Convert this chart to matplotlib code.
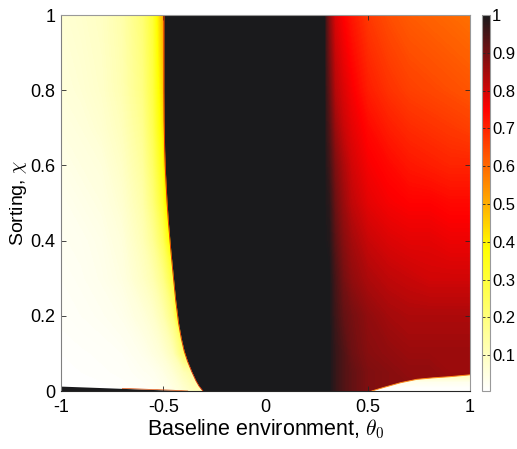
import numpy as np
import matplotlib
matplotlib.use("Agg")
import matplotlib.pyplot as plt
from matplotlib.colors import LinearSegmentedColormap, Normalize

plt.rcParams['font.family'] = ['Liberation Sans', 'DejaVu Sans']
plt.rcParams['mathtext.fontset'] = 'cm'

# ---------------- data ----------------
chi_rows = [0.0, 0.05, 0.1, 0.2, 0.3, 0.4, 0.5, 0.6, 0.7, 0.8, 0.9, 1.0]

# left (low theta) region
theta_left = [-1.0, -0.9, -0.8, -0.7, -0.6, -0.55, -0.5, -0.45, -0.4, -0.35, -0.3]
left_vals = [
    [0.005, 0.006, 0.008, 0.010, 0.015, 0.020, 0.030, 0.045, 0.070, 0.10, 0.12],
    [0.008, 0.010, 0.012, 0.015, 0.025, 0.030, 0.045, 0.070, 0.110, 0.15, 0.50],
    [0.010, 0.012, 0.015, 0.020, 0.035, 0.050, 0.070, 0.110, 0.220, 1.00, 1.00],
    [0.015, 0.020, 0.025, 0.035, 0.060, 0.080, 0.120, 0.200, 0.500, 1.00, 1.00],
    [0.020, 0.025, 0.035, 0.050, 0.090, 0.120, 0.180, 0.300, 1.000, 1.00, 1.00],
    [0.025, 0.030, 0.040, 0.060, 0.110, 0.160, 0.250, 0.450, 1.000, 1.00, 1.00],
    [0.030, 0.040, 0.050, 0.075, 0.130, 0.200, 0.320, 0.600, 1.000, 1.00, 1.00],
    [0.040, 0.050, 0.060, 0.090, 0.150, 0.230, 0.370, 0.900, 1.000, 1.00, 1.00],
    [0.050, 0.060, 0.075, 0.105, 0.170, 0.260, 0.420, 0.900, 1.000, 1.00, 1.00],
    [0.060, 0.070, 0.085, 0.120, 0.190, 0.280, 0.450, 0.900, 1.000, 1.00, 1.00],
    [0.065, 0.075, 0.090, 0.125, 0.200, 0.290, 0.480, 0.900, 1.000, 1.00, 1.00],
    [0.070, 0.080, 0.095, 0.130, 0.210, 0.300, 0.500, 0.900, 1.000, 1.00, 1.00],
]

# right (high theta) region
theta_right = [0.28, 0.31, 0.34, 0.38, 0.42, 0.5, 0.6, 0.7, 0.8, 0.9, 1.0]
right_vals = [
    [1.0, 1.00, 0.97, 0.94, 0.92, 0.89, 0.88, 0.88, 0.87, 0.87, 0.87],
    [1.0, 1.00, 0.97, 0.94, 0.92, 0.89, 0.88, 0.87, 0.87, 0.86, 0.86],
    [1.0, 1.00, 0.97, 0.94, 0.91, 0.88, 0.87, 0.86, 0.86, 0.86, 0.86],
    [1.0, 1.00, 0.96, 0.92, 0.90, 0.87, 0.85, 0.84, 0.84, 0.84, 0.84],
    [1.0, 1.00, 0.95, 0.90, 0.87, 0.84, 0.82, 0.81, 0.80, 0.80, 0.80],
    [1.0, 0.99, 0.93, 0.88, 0.85, 0.81, 0.79, 0.78, 0.78, 0.77, 0.77],
    [1.0, 0.98, 0.91, 0.86, 0.82, 0.78, 0.76, 0.75, 0.75, 0.74, 0.74],
    [1.0, 0.96, 0.89, 0.84, 0.80, 0.76, 0.74, 0.72, 0.71, 0.70, 0.70],
    [1.0, 0.94, 0.86, 0.81, 0.78, 0.74, 0.71, 0.69, 0.68, 0.67, 0.66],
    [1.0, 0.92, 0.83, 0.79, 0.76, 0.71, 0.68, 0.66, 0.65, 0.64, 0.63],
    [1.0, 0.90, 0.81, 0.77, 0.74, 0.69, 0.66, 0.64, 0.63, 0.62, 0.61],
    [1.0, 0.88, 0.79, 0.75, 0.72, 0.67, 0.64, 0.62, 0.61, 0.60, 0.59],
]

# boundary of the black (value 1) middle region
bnd_chi = [0.0, 0.013, 0.027, 0.053, 0.08, 0.107, 0.14, 0.18, 0.24, 0.3, 0.373,
           0.45, 0.507, 0.58, 0.64, 0.72, 0.8, 1.0]
bnd_theta = [-0.306, -0.325, -0.34, -0.362, -0.382, -0.398, -0.412, -0.425, -0.439,
             -0.45, -0.463, -0.475, -0.482, -0.489, -0.493, -0.496, -0.497, -0.497]
bnd_right_theta = 0.29

# thin black strip along the bottom-left edge
strip_theta = [-1.0, -0.85, -0.7, -0.55, -0.45, -0.38]
strip_chi = [0.013, 0.010, 0.007, 0.004, 0.002, 0.0]

# pale patch at the bottom-right
patch_theta = [0.52, 0.575, 0.66, 0.74, 0.82, 0.90, 1.0]
patch_chi = [0.0, 0.009, 0.022, 0.031, 0.035, 0.038, 0.043]
patch_vals = [0.01, 0.03, 0.09]   # bottom -> top

cbar_ticks = [0.1, 0.2, 0.3, 0.4, 0.5, 0.6, 0.7, 0.8, 0.9, 1.0]
cbar_labels = ['0.1', '0.2', '0.3', '0.4', '0.5', '0.6', '0.7', '0.8', '0.9', '1']
x_ticks = [-1, -0.5, 0, 0.5, 1]
x_labels = ['-1', '-0.5', '0', '0.5', '1']
y_ticks = [0, 0.2, 0.4, 0.6, 0.8, 1]
y_labels = ['0', '0.2', '0.4', '0.6', '0.8', '1']

# ---------------- styling ----------------
dark = (0.10, 0.10, 0.11)
cmap = LinearSegmentedColormap.from_list(
    'rhot', [(0.0, (1, 1, 1)), (0.38, (1, 1, 0)), (0.75, (1, 0, 0)), (1.0, dark)], N=512)
norm = Normalize(vmin=0.005, vmax=1.0)
levels = np.linspace(0.0, 1.0, 301)

fig = plt.figure(figsize=(5.17, 4.49), dpi=100)
ax = fig.add_axes([61 / 517, 1 - 391 / 449, 409 / 517, 376 / 449])
cax = fig.add_axes([482 / 517, 1 - 391 / 449, 8 / 517, 376 / 449])

ax.contourf(theta_left, chi_rows, np.array(left_vals), levels=levels, cmap=cmap,
            norm=norm, extend='both')
ax.contourf(theta_right, chi_rows, np.array(right_vals), levels=levels, cmap=cmap,
            norm=norm, extend='both')

# black middle region
ax.fill_betweenx(bnd_chi, bnd_theta, bnd_right_theta, color=dark, lw=0, zorder=3)
ax.plot(bnd_theta, bnd_chi, color=(0.85, 0.15, 0.0), lw=0.6, zorder=3.5)

# bottom-left strip
ax.fill_between(strip_theta, 0, strip_chi, color=dark, lw=0, zorder=4)
ax.plot(strip_theta[2:], strip_chi[2:], color=(0.85, 0.3, 0.05), lw=0.5, zorder=4.5)

# bottom-right pale patch with vertical gradient
poly = ax.fill_between(patch_theta, 0, patch_chi, color='none', lw=0, zorder=4)
grad = np.array(patch_vals).reshape(-1, 1)
im = ax.imshow(grad, extent=[patch_theta[0], patch_theta[-1], 0, max(patch_chi)],
               origin='lower', cmap=cmap, norm=norm, aspect='auto',
               interpolation='bilinear', zorder=4)
im.set_clip_path(poly.get_paths()[0], transform=ax.transData)
ax.plot(patch_theta, patch_chi, color=(1.0, 0.55, 0.1), lw=0.7, zorder=4.5)

ax.set_xlim(-1, 1)
ax.set_ylim(0, 1)
ax.set_xticks(x_ticks)
ax.set_xticklabels(x_labels)
ax.set_yticks(y_ticks)
ax.set_yticklabels(y_labels)
spine_c = (0.15, 0.15, 0.15)
for s in ax.spines.values():
    s.set_color((0.6, 0.6, 0.6))
    s.set_linewidth(0.8)
    s.set_zorder(6)
ax.spines['bottom'].set_color(spine_c)
ax.spines['left'].set_color((0.5, 0.5, 0.5))
ax.tick_params(direction='in', length=3.5, width=0.6, color=spine_c, labelsize=13,
               top=True, right=True, labelcolor='black')
ax.tick_params(axis='x', pad=6)
ax.tick_params(axis='y', pad=4)
ax.set_xlabel(r'Baseline environment, $\theta_{\mathsf{0}}$', fontsize=15.5, labelpad=1)
ax.set_ylabel(r'Sorting, $\chi$', fontsize=14, labelpad=1)

sm = matplotlib.cm.ScalarMappable(norm=norm, cmap=cmap)
cb = fig.colorbar(sm, cax=cax, ticks=cbar_ticks)
cb.ax.set_yticklabels(cbar_labels)
cb.outline.set_edgecolor((0.6, 0.6, 0.6))
cb.outline.set_linewidth(0.8)
cax.tick_params(direction='in', length=2.5, width=0.6, color=spine_c, labelsize=12,
                left=True, right=True, pad=1.5)

fig.savefig('out.png', dpi=100)
